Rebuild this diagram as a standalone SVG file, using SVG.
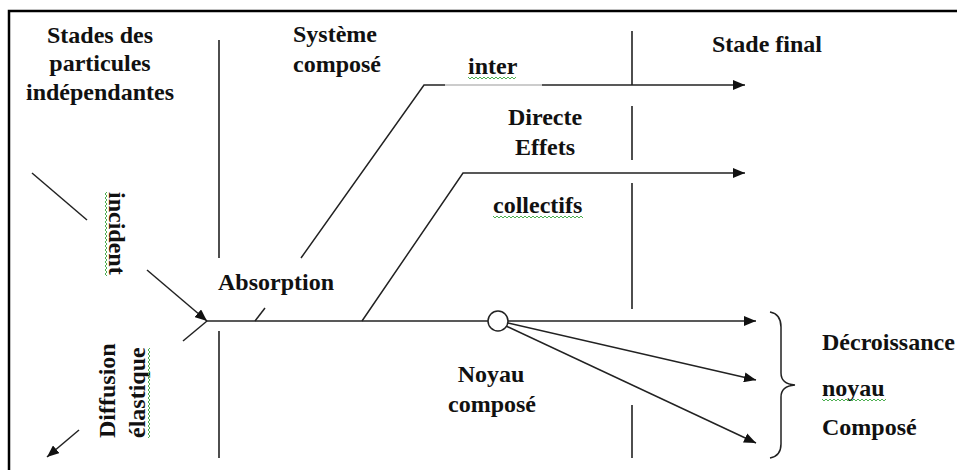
<svg xmlns="http://www.w3.org/2000/svg" width="957" height="470" viewBox="0 0 957 470">
  <defs>
    <marker id="arr" viewBox="0 0 12 10" refX="12" refY="5" markerWidth="12" markerHeight="10" markerUnits="userSpaceOnUse" orient="auto">
      <path d="M0,0 L12,5 L0,10 z" fill="#111"/>
    </marker>
    <style>
      .t { font-family: "Liberation Serif", "Times New Roman", serif; font-weight: bold; font-size: 24px; fill: #111; }
      .m { text-anchor: middle; }
      .ln { stroke: #222; stroke-width: 1.5; fill: none; }
      .sep { stroke: #222; stroke-width: 1.6; fill: none; }
      .sq { stroke: #4caf50; stroke-width: 1; fill: none; }
    </style>
  </defs>
  <rect width="957" height="470" fill="#fff"/>
  <path d="M9,470 L9,11 L957,11" stroke="#000" stroke-width="2.5" fill="none"/>

  <g id="separators">
    <path class="sep" d="M219,40 V258 M219,331 V458"/>
    <path class="sep" d="M632,31 V85 M632,106 V160 M632,183 V309 M632,405 V458"/>
  </g>

  <g id="connectors">
    <line class="ln" x1="32" y1="173" x2="87" y2="220"/>
    <line class="ln" x1="147" y1="270" x2="207" y2="321" marker-end="url(#arr)"/>
    <line class="ln" x1="207" y1="321" x2="183" y2="341"/>
    <line class="ln" x1="79" y1="430" x2="47" y2="457" marker-end="url(#arr)"/>
    <line class="ln" x1="207" y1="321" x2="488" y2="321"/>
    <line class="ln" x1="255" y1="321" x2="265" y2="308"/>
    <path class="ln" d="M301,258 L424,85 L445,85"/>
    <line x1="445" y1="85" x2="542" y2="85" stroke="#bbb" stroke-width="1.5"/>
    <line class="ln" x1="542" y1="85" x2="745" y2="85" marker-end="url(#arr)"/>
    <path class="ln" d="M362,321 L463,173 L745,173" marker-end="url(#arr)"/>
    <line class="ln" x1="508" y1="321" x2="756" y2="321" marker-end="url(#arr)"/>
    <line class="ln" x1="508" y1="323" x2="756" y2="380" marker-end="url(#arr)"/>
    <line class="ln" x1="506" y1="326" x2="756" y2="443" marker-end="url(#arr)"/>
  </g>

  <g id="stades-particules">
    <text class="t m" x="100" y="43">Stades des</text>
    <text class="t m" x="100" y="71">particules</text>
    <text class="t m" x="100" y="100">indépendantes</text>
  </g>

  <g id="systeme-compose">
    <text class="t" x="293" y="42">Système</text>
    <text class="t" x="293" y="72">composé</text>
  </g>

  <g id="stade-final">
    <text class="t" x="712" y="52">Stade final</text>
  </g>

  <g id="inter">
    <text class="t" x="468" y="74">inter</text>
    <path class="sq" d="M468,77 l2,2 l2,-2 l2,2 l2,-2 l2,2 l2,-2 l2,2 l2,-2 l2,2 l2,-2 l2,2 l2,-2 l2,2 l2,-2 l2,2 l2,-2 l2,2 l2,-2 l2,2 l2,-2 l2,2 l2,-2 l2,2 l2,-2"/>
  </g>

  <g id="directe-effets">
    <text class="t m" x="545" y="125">Directe</text>
    <text class="t m" x="545" y="155">Effets</text>
  </g>

  <g id="collectifs">
    <text class="t" x="493" y="213">collectifs</text>
    <path class="sq" d="M493,216 l2,2 l2,-2 l2,2 l2,-2 l2,2 l2,-2 l2,2 l2,-2 l2,2 l2,-2 l2,2 l2,-2 l2,2 l2,-2 l2,2 l2,-2 l2,2 l2,-2 l2,2 l2,-2 l2,2 l2,-2 l2,2 l2,-2 l2,2 l2,-2 l2,2 l2,-2 l2,2 l2,-2 l2,2 l2,-2 l2,2 l2,-2 l2,2 l2,-2 l2,2 l2,-2 l2,2 l2,-2 l2,2 l2,-2 l2,2 l2,-2 l2,2"/>
  </g>

  <g id="incident">
    <text class="t" transform="translate(109,192) rotate(90)">incident</text>
    <path class="sq" d="M107,192 l-2,2 l2,2 l-2,2 l2,2 l-2,2 l2,2 l-2,2 l2,2 l-2,2 l2,2 l-2,2 l2,2 l-2,2 l2,2 l-2,2 l2,2 l-2,2 l2,2 l-2,2 l2,2 l-2,2 l2,2 l-2,2 l2,2 l-2,2 l2,2 l-2,2 l2,2 l-2,2 l2,2 l-2,2 l2,2 l-2,2 l2,2 l-2,2 l2,2 l-2,2 l2,2 l-2,2 l2,2 l-2,2 l2,2"/>
  </g>

  <g id="absorption">
    <text class="t" x="218" y="290">Absorption</text>
  </g>

  <g id="diffusion-elastique">
    <text class="t" transform="translate(115,438) rotate(-90)">Diffusion</text>
    <text class="t" transform="translate(145,438) rotate(-90)">élastique</text>
    <path class="sq" d="M148,438 l2,-2 l-2,-2 l2,-2 l-2,-2 l2,-2 l-2,-2 l2,-2 l-2,-2 l2,-2 l-2,-2 l2,-2 l-2,-2 l2,-2 l-2,-2 l2,-2 l-2,-2 l2,-2 l-2,-2 l2,-2 l-2,-2 l2,-2 l-2,-2 l2,-2 l-2,-2 l2,-2 l-2,-2 l2,-2 l-2,-2 l2,-2 l-2,-2 l2,-2 l-2,-2 l2,-2 l-2,-2 l2,-2 l-2,-2 l2,-2 l-2,-2 l2,-2 l-2,-2 l2,-2 l-2,-2 l2,-2 l-2,-2 l2,-2"/>
  </g>

  <g id="noyau-compose">
    <circle cx="498" cy="321" r="10" fill="#fff" stroke="#222" stroke-width="1.5"/>
    <text class="t m" x="491" y="382">Noyau</text>
    <text class="t m" x="492" y="412">composé</text>
  </g>

  <g id="decroissance">
    <path class="ln" d="M770,312 Q781,314 781,327 V373 Q781,384 795,385 Q781,386 781,397 V444 Q781,456 770,458"/>
    <text class="t" x="822" y="350">Décroissance</text>
    <text class="t" x="822" y="396">noyau</text>
    <path class="sq" d="M822,399 l2,2 l2,-2 l2,2 l2,-2 l2,2 l2,-2 l2,2 l2,-2 l2,2 l2,-2 l2,2 l2,-2 l2,2 l2,-2 l2,2 l2,-2 l2,2 l2,-2 l2,2 l2,-2 l2,2 l2,-2 l2,2 l2,-2 l2,2 l2,-2 l2,2 l2,-2 l2,2 l2,-2 l2,2 l2,-2"/>
    <text class="t" x="822" y="435">Composé</text>
  </g>
</svg>
